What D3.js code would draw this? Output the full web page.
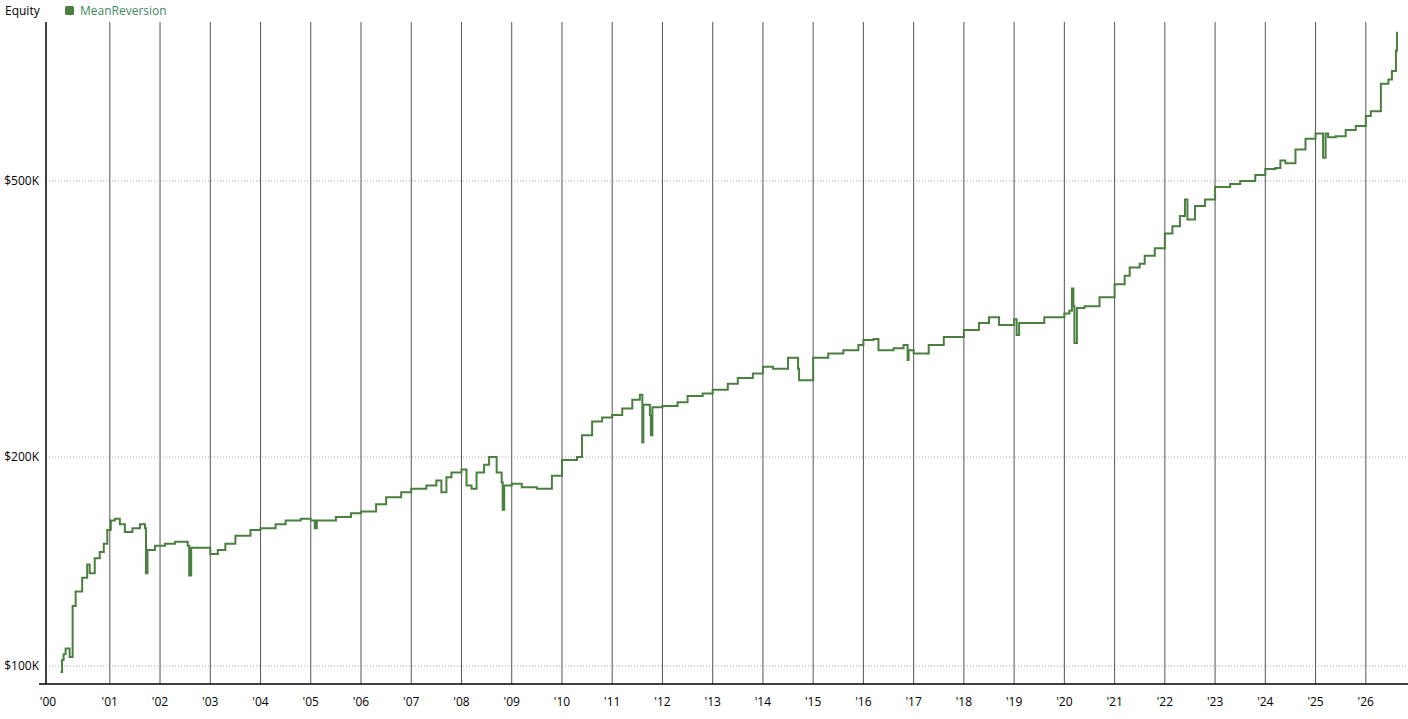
<!DOCTYPE html>
<html>
<head>
<meta charset="utf-8">
<script src="https://cdn.jsdelivr.net/npm/d3@7"></script>
<style>
  body { margin: 0; background: #fff; font-family: "Open Sans", "DejaVu Sans", sans-serif; }
</style>
</head>
<body>
<div id="chart"></div>
<script>
// equity curve, [year fraction, value in $K]
const dates = [2000.02, 2000.05, 2000.08, 2000.12, 2000.18, 2000.2, 2000.26, 2000.32, 2000.45, 2000.55, 2000.6, 2000.7, 2000.8, 2000.88, 2000.95, 2001.02, 2001.1, 2001.2, 2001.3, 2001.45, 2001.6, 2001.7, 2001.72, 2001.75, 2001.9, 2002.1, 2002.3, 2002.55, 2002.58, 2002.62, 2002.8, 2003.0, 2003.15, 2003.3, 2003.5, 2003.8, 2004.0, 2004.3, 2004.5, 2004.8, 2005.0, 2005.08, 2005.12, 2005.5, 2005.8, 2006.0, 2006.3, 2006.5, 2006.8, 2007.0, 2007.3, 2007.5, 2007.6, 2007.7, 2007.8, 2008.0, 2008.1, 2008.2, 2008.3, 2008.45, 2008.55, 2008.7, 2008.8, 2008.82, 2008.85, 2009.0, 2009.2, 2009.5, 2009.8, 2010.0, 2010.3, 2010.4, 2010.6, 2010.8, 2011.0, 2011.2, 2011.4, 2011.55, 2011.6, 2011.62, 2011.75, 2011.77, 2011.8, 2012.0, 2012.3, 2012.5, 2012.8, 2013.0, 2013.3, 2013.5, 2013.8, 2014.0, 2014.2, 2014.5, 2014.7, 2014.72, 2015.0, 2015.3, 2015.6, 2015.9, 2016.0, 2016.2, 2016.3, 2016.6, 2016.8, 2016.88, 2016.9, 2017.0, 2017.3, 2017.6, 2018.0, 2018.3, 2018.5, 2018.7, 2019.0, 2019.05, 2019.1, 2019.3, 2019.6, 2020.0, 2020.1, 2020.15, 2020.18, 2020.2, 2020.25, 2020.4, 2020.7, 2021.0, 2021.2, 2021.3, 2021.5, 2021.6, 2021.8, 2022.0, 2022.15, 2022.3, 2022.4, 2022.45, 2022.6, 2022.8, 2023.0, 2023.3, 2023.5, 2023.8, 2024.0, 2024.2, 2024.3, 2024.4, 2024.6, 2024.8, 2025.0, 2025.15, 2025.2, 2025.25, 2025.4, 2025.6, 2025.8, 2026.0, 2026.1, 2026.3, 2026.45, 2026.52, 2026.6, 2026.62];
const equity = [98, 102, 104, 106, 106, 103, 122, 128, 134, 140, 136, 143, 146, 150, 157, 162, 163, 160, 156, 158, 160, 158, 136, 147, 149, 150, 151, 149, 135, 148, 148, 145, 147, 150, 154, 157, 158, 160, 162, 163, 162, 158, 162, 164, 166, 167, 171, 175, 178, 180, 182, 185, 178, 187, 190, 192, 182, 180, 190, 195, 200, 190, 184, 168, 182, 183, 181, 180, 188, 198, 200, 215, 225, 228, 230, 235, 242, 246, 210, 238, 230, 215, 236, 237, 240, 245, 247, 250, 255, 260, 264, 270, 268, 278, 268, 258, 278, 282, 285, 290, 295, 296, 285, 287, 290, 276, 285, 282, 290, 298, 305, 312, 318, 310, 316, 300, 312, 312, 318, 322, 325, 350, 330, 292, 328, 330, 340, 355, 365, 375, 380, 390, 400, 420, 430, 445, 470, 440, 460, 470, 490, 495, 500, 510, 520, 522, 535, 530, 555, 575, 585, 540, 585, 578, 580, 592, 600, 620, 630, 690, 700, 720, 770, 820];
const yTicks = [100, 200, 500];
const yearLabels = ["'00", "'01", "'02", "'03", "'04", "'05", "'06", "'07", "'08", "'09", "'10", "'11", "'12", "'13", "'14", "'15", "'16", "'17", "'18", "'19", "'20", "'21", "'22", "'23", "'24", "'25", "'26"];

const width = 1408, height = 719;
const plotLeft = 46, plotRight = 1408, plotTop = 22, plotBottom = 684;

const svg = d3.select("#chart").append("svg")
    .attr("width", width).attr("height", height);

const x = d3.scaleLinear().domain([1999.73, 2026.84]).range([plotLeft, plotRight]);
const y = d3.scaleLog().domain([100 * Math.pow(10, -18 / 694), 100 * Math.pow(10, 644 / 694)]).range([plotBottom, plotTop]);

// horizontal dotted gridlines
svg.selectAll("line.hgrid").data(yTicks).join("line")
    .attr("x1", plotLeft).attr("x2", plotRight)
    .attr("y1", d => y(d)).attr("y2", d => y(d))
    .attr("stroke", "#aaa").attr("stroke-dasharray", "1,2");

// vertical year lines
const years = d3.range(2001, 2027);
svg.selectAll("line.vgrid").data(years).join("line")
    .attr("x1", d => x(d)).attr("x2", d => x(d))
    .attr("y1", plotTop).attr("y2", plotBottom)
    .attr("stroke", "#555").attr("stroke-width", 1);

// axes
svg.append("line").attr("x1", plotLeft).attr("x2", plotLeft).attr("y1", plotTop).attr("y2", plotBottom)
    .attr("stroke", "#000").attr("stroke-width", 1.5);
svg.append("line").attr("x1", 39).attr("x2", plotRight).attr("y1", plotBottom).attr("y2", plotBottom)
    .attr("stroke", "#000").attr("stroke-width", 1.5);

svg.selectAll("text.ylab").data(yTicks).join("text")
    .attr("x", 39).attr("y", d => y(d) + 4)
    .attr("text-anchor", "end")
    .style("font-size", "12px").style("fill", "#000")
    .text(d => "$" + d + "K");

svg.selectAll("text.xlab").data(yearLabels).join("text")
    .attr("x", (d, i) => i === 0 ? 48 : x(2000 + i))
    .attr("y", 706)
    .attr("text-anchor", "middle")
    .style("font-size", "12px").style("fill", "#000")
    .text(d => d);

// equity line
const series = dates.map((d, i) => [d, equity[i]]);
const line = d3.line().x(d => x(d[0])).y(d => y(d[1])).curve(d3.curveStepAfter);
svg.append("path").datum(series)
    .attr("d", line)
    .attr("fill", "none")
    .attr("stroke", "#4a7f3f")
    .attr("stroke-width", 2);

// header and legend
svg.append("text").attr("x", 5).attr("y", 15).text("Equity")
    .style("font-size", "12px").style("fill", "#000");
svg.append("rect").attr("x", 65).attr("y", 6).attr("width", 9).attr("height", 9).attr("rx", 1.5)
    .attr("fill", "#4a7f3f");
svg.append("text").attr("x", 80).attr("y", 15).text("MeanReversion")
    .style("font-size", "12px").style("fill", "#3f8a5f");
</script>
</body>
</html>
